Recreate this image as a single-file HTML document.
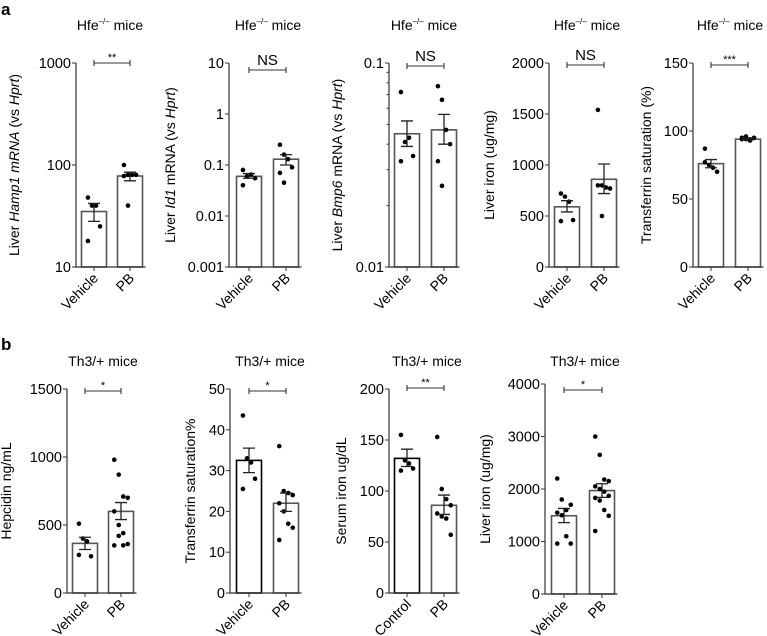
<!DOCTYPE html>
<html><head><meta charset="utf-8"><style>
body{margin:0;background:#fff}
svg{font-family:"Liberation Sans",sans-serif;display:block}
</style></head><body>
<svg id="fig" width="767" height="636" viewBox="0 0 767 636">
<text x="1" y="15" font-size="17" font-weight="bold">a</text>
<text x="1" y="350" font-size="17" font-weight="bold">b</text>
</svg>
<script>
// ---- data arrays ----
const a1Cats = ["Vehicle","PB"];
const a1Means = [35, 78];
const a1Err = [[28,42],[70,85]];
const a1Dots = [[48,40,40,25,18],[100,80,80,80,78,40]];
const a2Cats = ["Vehicle","PB"];
const a2Means = [0.06, 0.13];
const a2Err = [[0.055,0.068],[0.1,0.16]];
const a2Dots = [[0.08,0.06,0.065,0.055,0.04],[0.25,0.16,0.13,0.09,0.07,0.045]];
const a3Cats = ["Vehicle","PB"];
const a3Means = [0.045, 0.047];
const a3Err = [[0.039,0.052],[0.040,0.056]];
const a3Dots = [[0.072,0.041,0.043,0.035,0.033],[0.077,0.066,0.047,0.04,0.033,0.025]];
const a4Cats = ["Vehicle","PB"];
const a4Means = [590, 860];
const a4Err = [[540,650],[720,1010]];
const a4Dots = [[720,690,640,460,450],[1540,800,780,770,800,500]];
const a5Cats = ["Vehicle","PB"];
const a5Means = [76, 94];
const a5Err = [[73,79],[93.5,95]];
const a5Dots = [[87,75,73,70,77],[95,94,93,95,94,96]];
const b1Cats = ["Vehicle","PB"];
const b1Means = [365, 600];
const b1Err = [[320,410],[540,665]];
const b1Dots = [[510,400,380,270,280],[980,870,710,700,600,500,440,360,350,420,350]];
const b2Cats = ["Vehicle","PB"];
const b2Means = [32.5, 22];
const b2Err = [[29.5,35.5],[20,24.5]];
const b2Dots = [[43.5,33,32,28,25.5],[36,25,24.5,24,22,20,17,16,13]];
const b3Cats = ["Control","PB"];
const b3Means = [132, 86];
const b3Err = [[124,141],[77,96]];
const b3Dots = [[155,130,127,122,120],[153,102,92,86,78,75,73,57]];
const b4Cats = ["Vehicle","PB"];
const b4Means = [1490, 1970];
const b4Err = [[1360,1630],[1840,2100]];
const b4Dots = [[2200,1800,1600,1700,1550,1500,1100,960,960],[3000,2650,2180,2150,2050,2000,1950,1870,1830,1780,1600,1490,1200]];
const aLinTicks4 = ["0","500","1000","1500","2000"];
const aLinTicks5 = ["0","50","100","150"];
const b1Ticks = ["0","500","1000","1500"];
const b2Ticks = ["0","10","20","30","40","50"];
const b3Ticks = ["0","50","100","150","200"];
const b4Ticks = ["0","1000","2000","3000","4000"];
const sigLabels = ["**","NS","NS","NS","***","*","*","**","*"];

const NS="http://www.w3.org/2000/svg";
const fig=document.getElementById('fig');
function mk(tag,attrs,parent){const e=document.createElementNS(NS,tag);for(const k in attrs)e.setAttribute(k,attrs[k]);(parent||fig).appendChild(e);return e;}

function chart(o){
  const g=mk('g',{});
  
  
  let y;
  if(o.log){const l0=Math.log10(o.min),l1=Math.log10(o.max);y=v=>o.bot-(Math.log10(v)-l0)/(l1-l0)*(o.bot-o.top);}
  else{y=v=>o.bot-(v-o.min)/(o.max-o.min)*(o.bot-o.top);}
  const bw=o.bw||25;
  o.cats.forEach((c,i)=>{
    const cx=o.bx[i];
    const base=o.log?o.bot:y(0);
    const r=mk('rect',{x:cx-bw/2,y:y(o.means[i]),width:bw,height:base-y(o.means[i]),fill:'#fff',stroke:i===0&&o.darkFirst?'#000':'#555','stroke-width':1.6},g);
    
    
    const d=o.dots[i];
    d.forEach((v,j)=>{
      const off=((j%4)-1.5)*4.5*(d.length>6?1:0.9);
      const dot=mk('circle',{cx:cx+off,cy:y(v),r:2.3,fill:'#000'},g);
      
      
    });
    const e=o.err[i];
    const eb=mk('path',{d:`M${cx},${y(e[0])}V${y(e[1])}M${cx-6},${y(e[0])}H${cx+6}M${cx-6},${y(e[1])}H${cx+6}`,stroke:'#222','stroke-width':1.3,fill:'none'},g);
    
    
    mk('line',{x1:cx,x2:cx,y1:o.bot,y2:o.bot+4,stroke:'#333'},g);
    const t=mk('text',{x:cx+5,y:o.bot+12,'font-size':14,'text-anchor':'end',transform:`rotate(-45 ${cx+5} ${o.bot+12})`},g);
    t.textContent=c;
    
    
  });
  mk('path',{d:`M${o.ax},${o.top}V${o.bot}H${o.bx[1]+bw/2+3}`,stroke:'#333','stroke-width':1.2,fill:'none'},g);
  o.ticks.forEach(tk=>{
    const v=parseFloat(tk),yy=y(v);
    mk('line',{x1:o.ax-4,x2:o.ax,y1:yy,y2:yy,stroke:'#333'},g);
    const t=mk('text',{x:o.ax-5,y:yy+5,'font-size':14.5,'text-anchor':'end'},g);
    t.textContent=tk;
    
    
  });
  if(o.minor){const l0=Math.log10(o.min);for(let m=2;m<10;m++){const yy=y(Math.pow(10,l0)*m);mk('line',{x1:o.ax-2.5,x2:o.ax,y1:yy,y2:yy,stroke:'#333'},g);}}
  const sy=o.top+(o.sigDy||0);
  mk('path',{d:`M${o.bx[0]},${sy-3}V${sy+3}M${o.bx[0]},${sy}H${o.bx[1]}M${o.bx[1]},${sy-3}V${sy+3}`,stroke:'#333','stroke-width':1.1,fill:'none'},g);
  const st=mk('text',{x:(o.bx[0]+o.bx[1])/2,y:o.sig==='NS'?sy-5:sy-2,'font-size':o.sig==='NS'?15:11,'text-anchor':'middle'},g);
  st.textContent=o.sig;
  
  
  const tt=mk('text',{x:o.tx,y:o.ty,'font-size':14,'text-anchor':'middle'},g);
  tt.innerHTML=o.title;
  
  
  const ly=(o.top+o.bot)/2;
  const yl=mk('text',{x:o.lx,y:ly,'font-size':14,'text-anchor':'middle',transform:`rotate(-90 ${o.lx} ${ly})`},g);
  yl.innerHTML=o.ylabel;
  
  
}
const hfe='Hfe<tspan font-size="8" dy="-6">–/–</tspan><tspan dy="6"> mice</tspan>';
const th3='Th3/+ mice';
const AT=63,AB=267,BT=389,BB=593;
chart({name:'chart-hamp1',cats:a1Cats,means:a1Means,err:a1Err,dots:a1Dots,log:true,min:10,max:1000,ticks:["10","100","1000"],ax:76,bx:[94,130],top:AT,bot:AB,sig:sigLabels[0],tx:110,ty:30,title:hfe,lx:19,ylabel:'Liver <tspan font-style="italic">Hamp1 mRNA</tspan> (vs <tspan font-style="italic">Hprt</tspan>)'});
chart({name:'chart-id1',cats:a2Cats,means:a2Means,err:a2Err,dots:a2Dots,log:true,min:0.001,max:10,ticks:["0.001","0.01","0.1","1","10"],ax:229,bx:[249,286],top:AT,bot:AB,sig:sigLabels[1],sigDy:7,tx:268,ty:30,title:hfe,lx:175,ylabel:'Liver <tspan font-style="italic">Id1</tspan> mRNA (vs <tspan font-style="italic">Hprt</tspan>)'});
chart({name:'chart-bmp6',cats:a3Cats,means:a3Means,err:a3Err,dots:a3Dots,log:true,minor:true,min:0.01,max:0.1,ticks:["0.01","0.1"],ax:389,bx:[407,444],top:AT,bot:AB,sig:sigLabels[2],sigDy:3,tx:424,ty:30,title:hfe,lx:342,ylabel:'Liver <tspan font-style="italic">Bmp6</tspan> mRNA (vs <tspan font-style="italic">Hprt</tspan>)'});
chart({name:'chart-liver-iron-hfe',cats:a4Cats,means:a4Means,err:a4Err,dots:a4Dots,min:0,max:2000,ticks:aLinTicks4,ax:549,bx:[567,604],top:AT,bot:AB,sig:sigLabels[3],sigDy:2,tx:587,ty:30,title:hfe,lx:494,ylabel:'Liver iron (ug/mg)'});
chart({name:'chart-tsat-hfe',cats:a5Cats,means:a5Means,err:a5Err,dots:a5Dots,min:0,max:150,ticks:aLinTicks5,ax:693,bx:[711,748],top:AT,bot:AB,sig:sigLabels[4],sigDy:2,tx:730,ty:30,title:hfe,lx:651,ylabel:'Transferrin saturation (%)'});
chart({name:'chart-hepcidin',cats:b1Cats,means:b1Means,err:b1Err,dots:b1Dots,min:0,max:1500,ticks:b1Ticks,ax:67,bx:[85,121],top:BT,bot:BB,sig:sigLabels[5],sigDy:2,tx:103,ty:366,title:th3,lx:11,ylabel:'Hepcidin ng/mL'});
chart({name:'chart-tsat-th3',cats:b2Cats,means:b2Means,err:b2Err,dots:b2Dots,min:0,max:50,ticks:b2Ticks,ax:230,bx:[249,286],top:BT,bot:BB,sig:sigLabels[6],sigDy:2,darkFirst:true,tx:270,ty:366,title:th3,lx:195,ylabel:'Transferrin saturation%'});
chart({name:'chart-serum-iron',cats:b3Cats,means:b3Means,err:b3Err,dots:b3Dots,min:0,max:200,ticks:b3Ticks,ax:389,bx:[407,444],top:BT,bot:BB,sig:sigLabels[7],sigDy:-1,darkFirst:true,tx:427,ty:366,title:th3,lx:346,ylabel:'Serum iron ug/dL'});
chart({name:'chart-liver-iron-th3',cats:b4Cats,means:b4Means,err:b4Err,dots:b4Dots,min:0,max:4000,ticks:b4Ticks,ax:545,bx:[564,602],top:384,bot:594,sig:sigLabels[8],sigDy:6,tx:585,ty:366,title:th3,lx:490,ylabel:'Liver iron (ug/mg)'});
</script>
</body></html>
